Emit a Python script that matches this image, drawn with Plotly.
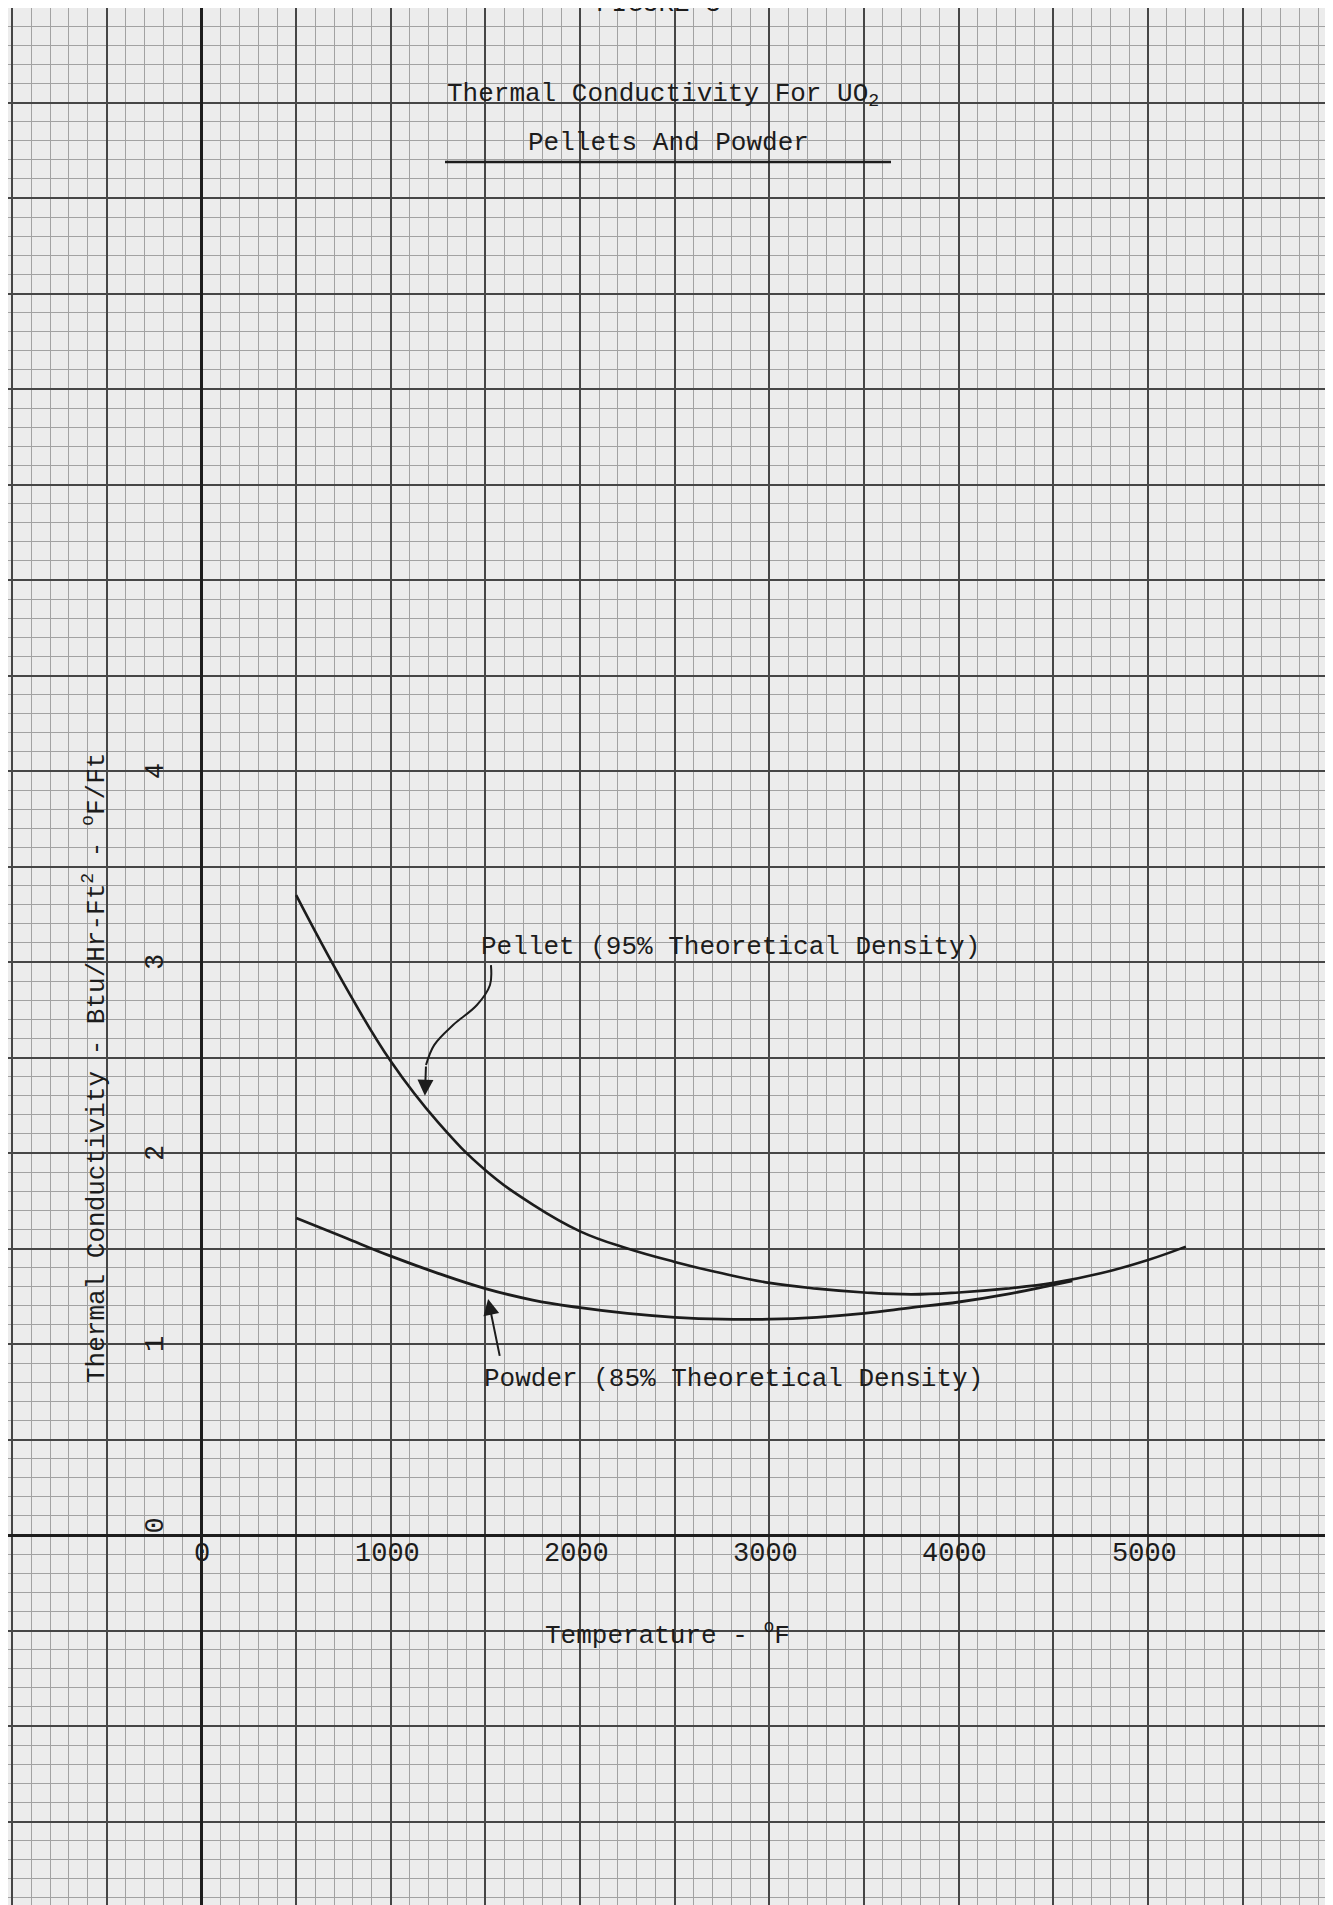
import plotly.graph_objects as go

# ---------------- data ----------------
pellet_temp = [500, 750, 1000, 1250, 1500, 1750, 2000, 2250, 2500, 2750, 3000,
               3250, 3500, 3750, 4000, 4250, 4500, 4750, 5000, 5200]
pellet_k = [3.35, 2.89, 2.48, 2.16, 1.91, 1.73, 1.59, 1.50, 1.43, 1.37, 1.32,
            1.29, 1.27, 1.26, 1.27, 1.29, 1.32, 1.37, 1.44, 1.51]

powder_temp = [500, 750, 1000, 1250, 1500, 1750, 2000, 2250, 2500, 2750, 3000,
               3250, 3500, 3750, 4000, 4250, 4500, 4600]
powder_k = [1.66, 1.56, 1.46, 1.37, 1.29, 1.23, 1.19, 1.16, 1.14, 1.13, 1.13,
            1.14, 1.16, 1.19, 1.22, 1.26, 1.31, 1.33]

x_tick_vals = [0, 1000, 2000, 3000, 4000, 5000]
x_tick_labels = ["0", "1000", "2000", "3000", "4000", "5000"]
y_tick_vals = [0, 1, 2, 3, 4]
y_tick_labels = ["0", "1", "2", "3", "4"]

# curved leader for the pellet label (temperature, conductivity)
pellet_leader_t = [1529, 1524, 1455, 1329, 1229, 1186]
pellet_leader_k = [2.984, 2.880, 2.775, 2.670, 2.565, 2.461]

W, H = 1333, 1905
INK = "#1c1c1c"
FONT = "Liberation Mono, Courier New, monospace"

fig = go.Figure()

fig.add_trace(go.Scatter(x=pellet_temp, y=pellet_k, mode="lines",
                         line=dict(color=INK, width=2.6, shape="spline", smoothing=1.2),
                         hoverinfo="skip", showlegend=False))
fig.add_trace(go.Scatter(x=powder_temp, y=powder_k, mode="lines",
                         line=dict(color=INK, width=2.8, shape="spline", smoothing=1.2),
                         hoverinfo="skip", showlegend=False))
fig.add_trace(go.Scatter(x=pellet_leader_t, y=pellet_leader_k, mode="lines",
                         line=dict(color=INK, width=2, shape="spline"),
                         hoverinfo="skip", showlegend=False))

ann = []
# arrowheads
ann.append(dict(x=1180, y=2.30, ax=pellet_leader_t[-1], ay=pellet_leader_k[-1],
                xref="x", yref="y", axref="x", ayref="y", text="",
                showarrow=True, arrowhead=2, arrowsize=1.6, arrowwidth=2,
                arrowcolor=INK))
ann.append(dict(x=1514, y=1.236, ax=1577, ay=0.93,
                xref="x", yref="y", axref="x", ayref="y", text="",
                showarrow=True, arrowhead=2, arrowsize=1.6, arrowwidth=2,
                arrowcolor=INK))

# curve labels
ann.append(dict(x=1466, y=3.08, xref="x", yref="y", xanchor="left", yanchor="middle",
                text="Pellet (95% Theoretical Density)", showarrow=False,
                font=dict(family=FONT, size=26, color=INK)))
ann.append(dict(x=1482, y=0.817, xref="x", yref="y", xanchor="left", yanchor="middle",
                text="Powder (85% Theoretical Density)", showarrow=False,
                font=dict(family=FONT, size=26, color=INK)))

# tick labels
for v, lab in zip(x_tick_vals, x_tick_labels):
    ann.append(dict(x=v - 20 if v else v + 5, y=-0.1, xref="x", yref="y",
                    text=lab, showarrow=False,
                    font=dict(family=FONT, size=27, color=INK)))
for v, lab in zip(y_tick_vals, y_tick_labels):
    ann.append(dict(x=-240, y=v + (0.05 if v == 0 else 0.0), xref="x", yref="y",
                    text=lab, showarrow=False, textangle=-90,
                    font=dict(family=FONT, size=27, color=INK)))

# titles
ann.append(dict(x=437 / W, y=1 - 87 / H, xref="paper", yref="paper",
                xanchor="left", yanchor="middle",
                text="Thermal Conductivity For UO<sub>2</sub>", showarrow=False,
                font=dict(family=FONT, size=26, color=INK)))
ann.append(dict(x=660 / W, y=1 - 135 / H, xref="paper", yref="paper",
                xanchor="center", yanchor="middle",
                text="Pellets And Powder", showarrow=False,
                font=dict(family=FONT, size=26, color=INK)))
ann.append(dict(x=650 / W, y=1 + 4 / H, xref="paper", yref="paper",
                xanchor="center", yanchor="middle",
                text="FIGURE 3", showarrow=False,
                font=dict(family=FONT, size=26, color=INK)))
ann.append(dict(x=535 / W, y=1 - 1626 / H, xref="paper", yref="paper",
                xanchor="left", yanchor="middle",
                text="Temperature - <sup>o</sup>F", showarrow=False,
                font=dict(family=FONT, size=26, color=INK)))
ann.append(dict(x=87 / W, y=1 - 1060 / H, xref="paper", yref="paper",
                xanchor="center", yanchor="middle", textangle=-90,
                text="Thermal Conductivity - Btu/Hr-Ft<sup>2</sup> - <sup>o</sup>F/Ft",
                showarrow=False,
                font=dict(family=FONT, size=26, color=INK)))

fig.update_layout(
    width=W, height=H, autosize=False,
    margin=dict(l=0, r=0, t=0, b=0, pad=0),
    paper_bgcolor="#ececec", plot_bgcolor="#ececec",
    annotations=ann,
    shapes=[dict(type="line", xref="paper", yref="paper",
                 x0=437 / W, x1=883 / W, y0=1 - 154 / H, y1=1 - 154 / H,
                 line=dict(color=INK, width=2.5))],
    xaxis=dict(range=[-1022.2, 6019.5], tick0=0, dtick=500,
               showticklabels=False, ticks="", showline=False,
               showgrid=True, gridcolor="#464646", gridwidth=2,
               zeroline=True, zerolinecolor="#1e1e1e", zerolinewidth=3,
               minor=dict(tick0=0, dtick=100, showgrid=True,
                          gridcolor="#a2a2a2", gridwidth=1),
               fixedrange=True),
    yaxis=dict(range=[-1.979, 7.995], tick0=0, dtick=0.5,
               showticklabels=False, ticks="", showline=False,
               showgrid=True, gridcolor="#464646", gridwidth=2,
               zeroline=True, zerolinecolor="#1e1e1e", zerolinewidth=3,
               minor=dict(tick0=0, dtick=0.1, showgrid=True,
                          gridcolor="#a2a2a2", gridwidth=1),
               fixedrange=True),
)

fig.write_html("out.html")
